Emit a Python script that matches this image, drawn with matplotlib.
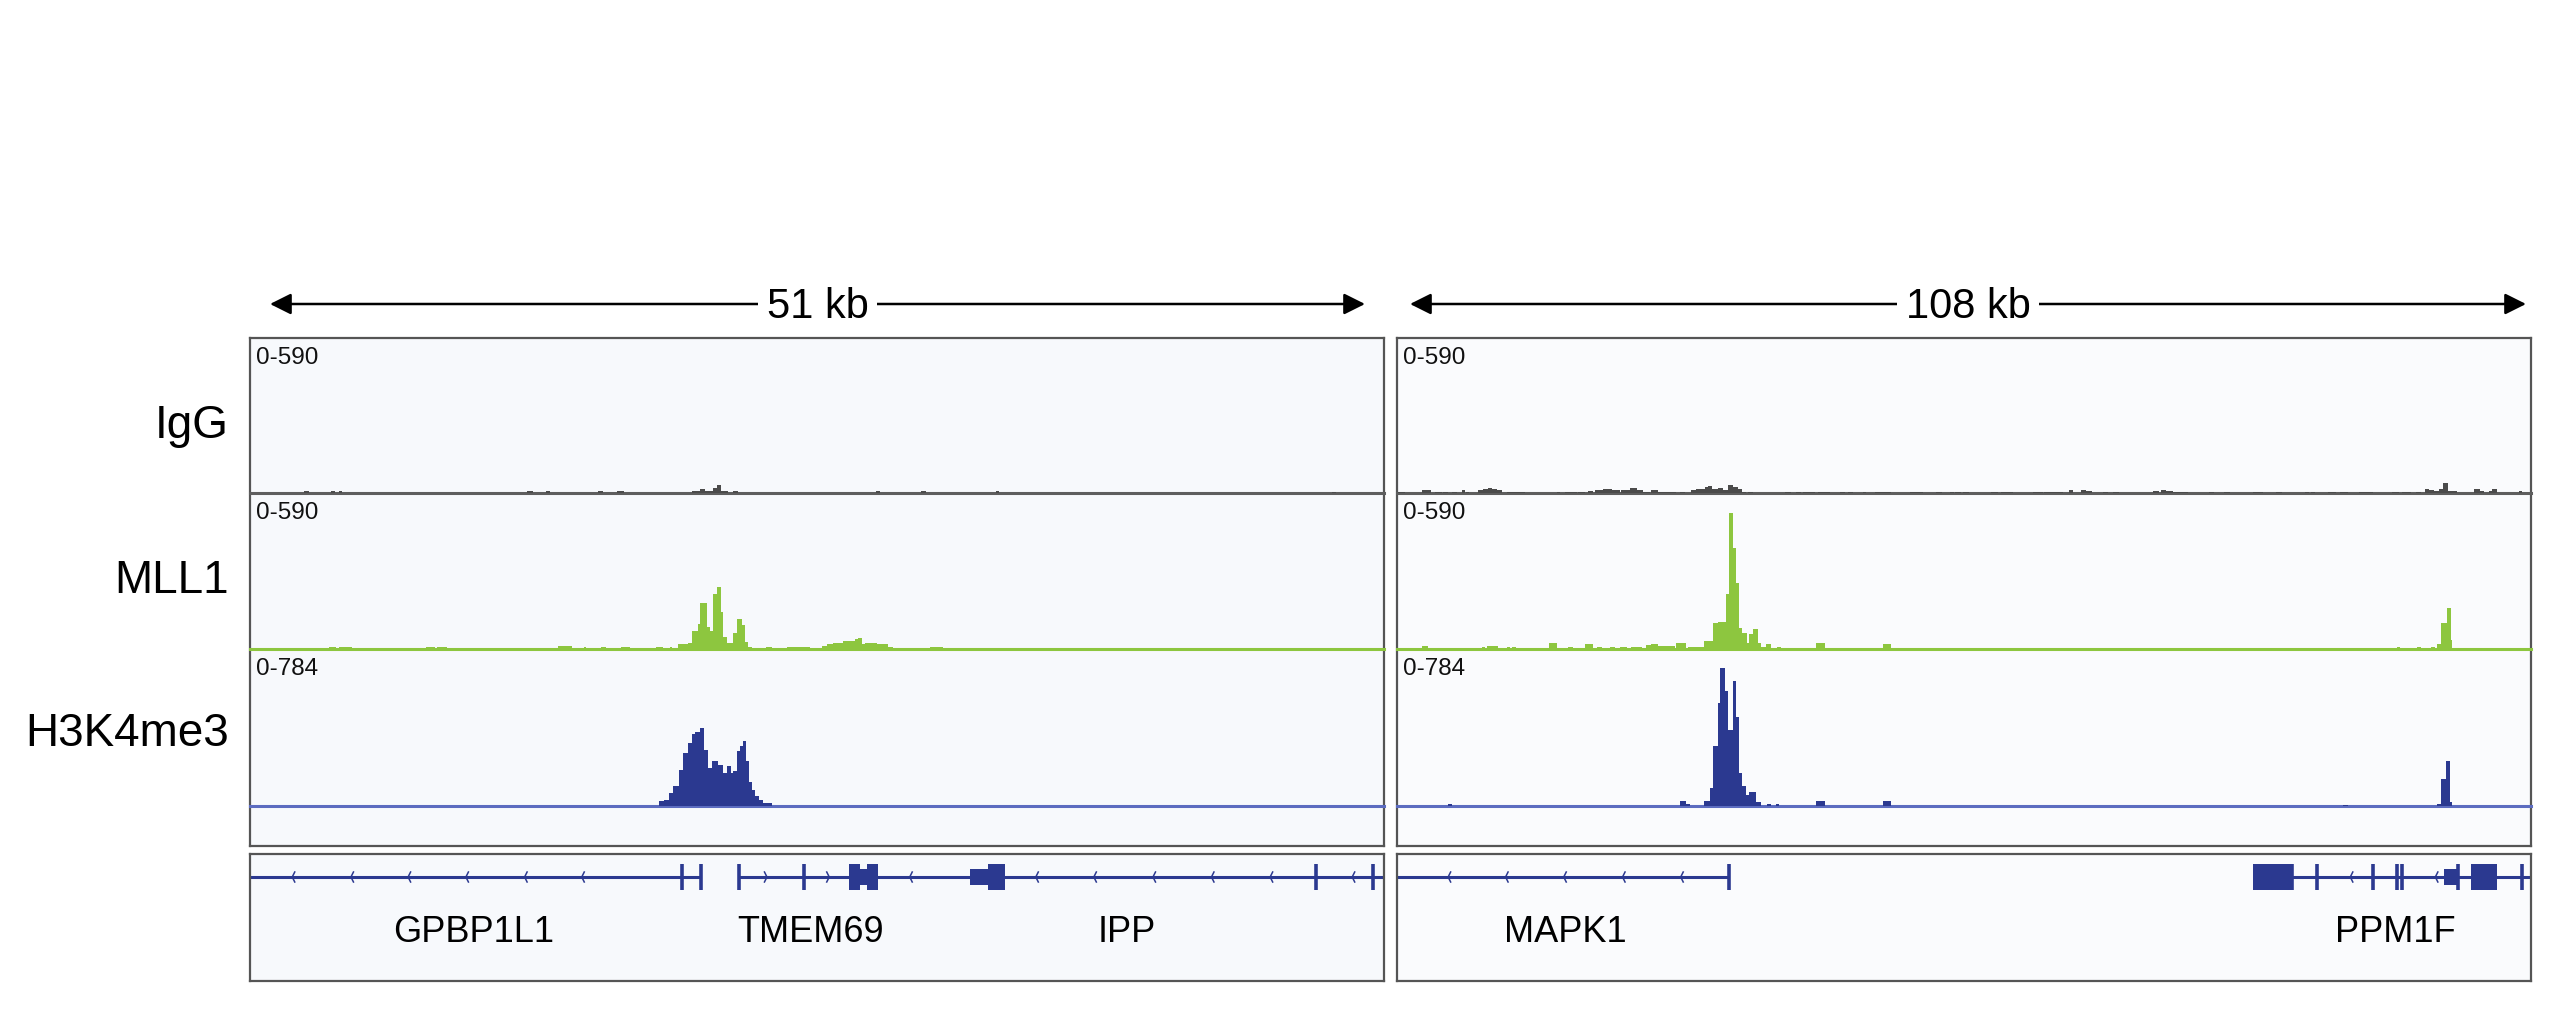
import matplotlib
matplotlib.use("Agg")
import matplotlib.pyplot as plt
from matplotlib.patches import Rectangle

plt.rcParams['font.family'] = ['Liberation Sans', 'DejaVu Sans']

W, H = 2560, 1015

# ---- signal tracks, (start kb, end kb, value) ----
igg_left = [(2.42, 2.65, 6), (3.64, 3.82, 6), (4.00, 4.13, 6), (12.44, 12.75, 6), (13.29, 13.47, 6),
            (15.63, 15.89, 6), (16.52, 16.84, 6), (19.89, 20.25, 9), (20.25, 20.47, 15), (20.47, 20.65, 9),
            (20.65, 20.83, 6), (20.83, 21.01, 19), (21.01, 21.19, 29), (21.19, 21.51, 9), (21.73, 21.96, 7),
            (28.15, 28.33, 6), (30.17, 30.40, 6), (33.54, 33.68, 6), (48.67, 48.85, 5)]

mll1_left = [(3.55, 3.86, 9), (4.00, 4.58, 9), (7.90, 8.30, 9), (8.40, 8.85, 9), (13.87, 14.46, 11),
             (15.00, 15.13, 9), (15.80, 16.03, 9), (16.70, 17.11, 9), (18.27, 18.59, 9), (18.88, 18.98, 9),
             (19.26, 19.71, 19), (19.71, 19.89, 24), (19.89, 20.16, 68), (20.16, 20.25, 95), (20.25, 20.56, 175),
             (20.56, 20.70, 84), (20.70, 20.83, 68), (20.83, 21.01, 207), (21.01, 21.19, 235), (21.19, 21.28, 141),
             (21.28, 21.46, 44), (21.46, 21.73, 24), (21.73, 21.91, 62), (21.91, 22.13, 112), (22.13, 22.27, 91),
             (22.27, 22.40, 28), (22.40, 22.58, 9), (23.21, 23.48, 9), (24.16, 25.19, 9), (25.73, 25.95, 11),
             (25.95, 26.22, 19), (26.22, 26.67, 24), (26.67, 27.21, 31), (27.21, 27.34, 37), (27.34, 27.52, 40),
             (27.52, 27.66, 20), (27.66, 28.20, 24), (28.20, 28.69, 19), (28.69, 28.91, 9), (30.58, 31.16, 9)]

h3_left = [(18.41, 18.60, 23), (18.60, 18.86, 32), (18.86, 19.02, 65), (19.02, 19.28, 98), (19.28, 19.47, 182),
           (19.47, 19.72, 265), (19.72, 19.88, 315), (19.88, 20.02, 361), (20.02, 20.22, 369), (20.22, 20.40, 390),
           (20.40, 20.58, 281), (20.58, 20.77, 190), (20.77, 21.03, 225), (21.03, 21.27, 203), (21.27, 21.45, 165),
           (21.45, 21.63, 198), (21.63, 21.74, 165), (21.74, 21.90, 174), (21.90, 22.04, 273), (22.04, 22.17, 298),
           (22.17, 22.31, 323), (22.31, 22.46, 223), (22.46, 22.57, 120), (22.57, 22.72, 82), (22.72, 22.91, 48),
           (22.91, 23.09, 32), (23.09, 23.47, 15)]

igg_right = [(0.12, 0.76, 4), (2.35, 3.21, 13), (3.62, 4.25, 5), (4.41, 4.88, 5), (5.20, 5.68, 5),
             (6.16, 6.47, 10), (6.57, 6.88, 5), (7.74, 8.21, 10), (8.21, 8.69, 15), (8.69, 9.01, 19),
             (9.01, 9.49, 15), (9.49, 9.96, 10), (10.44, 12.18, 5), (15.20, 15.51, 5), (15.99, 17.10, 5),
             (17.25, 17.89, 5), (18.20, 18.68, 9), (18.84, 19.63, 10), (19.63, 20.43, 15), (20.43, 21.22, 10),
             (21.38, 22.17, 10), (22.17, 22.81, 19), (22.81, 23.44, 10), (23.44, 24.07, 5), (24.23, 24.86, 13),
             (24.86, 26.61, 5), (26.93, 27.40, 5), (28.04, 28.52, 13), (28.52, 29.31, 17), (29.31, 29.62, 23),
             (29.62, 30.04, 28), (30.04, 30.57, 17), (30.57, 31.05, 19), (31.05, 31.52, 10), (31.52, 32.00, 29),
             (32.00, 32.47, 21), (32.47, 32.89, 15), (32.89, 33.21, 5), (33.43, 33.90, 5), (36.92, 37.55, 5),
             (37.97, 38.51, 5), (38.66, 39.77, 5), (40.09, 41.20, 5), (42.15, 42.63, 5), (42.94, 43.42, 5),
             (44.37, 44.69, 5), (45.48, 47.07, 5), (48.81, 50.08, 5), (51.35, 51.92, 5), (52.62, 53.09, 5),
             (53.19, 53.73, 5), (53.88, 54.46, 5), (56.58, 57.21, 5), (57.54, 58.64, 5), (60.54, 61.50, 5),
             (61.66, 62.45, 5), (62.51, 63.47, 5), (64.04, 64.35, 13), (65.15, 65.63, 10), (65.63, 66.20, 6),
             (67.21, 67.68, 5), (68.22, 68.79, 5), (71.96, 72.60, 6), (72.76, 73.24, 11), (73.24, 73.87, 6),
             (73.87, 75.29, 5), (77.29, 77.83, 5), (78.78, 79.33, 5), (81.54, 82.43, 5), (83.70, 84.27, 5),
             (86.49, 86.81, 5), (87.04, 87.44, 5), (88.71, 89.41, 5), (89.79, 90.61, 5), (91.63, 92.96, 5),
             (94.74, 95.43, 5), (95.69, 96.55, 5), (97.08, 97.50, 5), (97.90, 98.32, 15), (98.32, 98.76, 10),
             (98.76, 99.27, 6), (99.27, 99.65, 15), (99.65, 100.13, 38), (100.13, 100.98, 6), (102.57, 103.11, 15),
             (103.11, 103.52, 6), (104.00, 104.31, 6), (104.31, 104.79, 15), (106.85, 107.10, 6)]

mll1_right = [(2.35, 2.98, 11), (8.06, 8.37, 9), (8.53, 9.64, 11), (10.44, 10.75, 9), (10.91, 11.32, 9),
              (14.49, 15.20, 21), (16.30, 16.78, 9), (17.89, 18.62, 19), (19.00, 19.48, 9), (20.27, 20.74, 9),
              (21.22, 21.86, 9), (22.33, 23.38, 9), (23.76, 24.23, 15), (24.23, 24.86, 18), (24.86, 26.45, 12),
              (26.61, 27.57, 22), (27.72, 29.21, 9), (29.21, 30.10, 32), (30.10, 30.57, 100), (30.57, 31.37, 103),
              (31.37, 31.62, 207), (31.62, 32.00, 513), (32.00, 32.32, 381), (32.32, 32.57, 248), (32.57, 32.89, 81),
              (32.89, 33.33, 62), (33.33, 33.52, 21), (33.52, 33.90, 55), (33.90, 34.38, 74), (34.38, 34.70, 21),
              (34.70, 35.18, 9), (35.18, 35.65, 18), (36.19, 36.60, 9), (39.93, 40.72, 22), (46.27, 47.07, 19),
              (95.22, 95.50, 9), (97.15, 97.53, 9), (98.45, 98.83, 9), (99.08, 99.46, 19), (99.46, 99.97, 97),
              (99.97, 100.35, 156), (100.35, 100.51, 35)]

h3_right = [(4.88, 5.26, 12), (26.99, 27.50, 23), (27.50, 27.95, 12), (29.21, 29.78, 23), (29.78, 30.10, 90),
            (30.10, 30.57, 300), (30.57, 30.73, 514), (30.73, 31.21, 689), (31.21, 31.52, 574), (31.52, 32.00, 381),
            (32.00, 32.32, 623), (32.32, 32.57, 444), (32.57, 32.89, 165), (32.89, 33.27, 98), (33.27, 33.52, 53),
            (33.52, 34.23, 70), (34.23, 34.70, 20), (35.27, 35.65, 12), (36.06, 36.38, 12), (39.93, 40.72, 23),
            (46.27, 47.07, 23), (90.14, 90.58, 7), (99.08, 99.46, 12), (99.46, 99.88, 137), (99.88, 100.29, 225),
            (100.29, 100.45, 20)]

track_names = ['IgG', 'MLL1', 'H3K4me3']
track_ranges = [590, 590, 784]
track_fill = ['#4b4b4b', '#8dc63f', '#2b3990']
track_base = ['#5e5e5e', '#8dc63f', '#5c6cc0']

# ---- gene annotation (kb) ----
gene_lines_left = [(0.0, 20.28), (22.00, 51.0)]
exon_ticks_left = [19.43, 20.28, 22.00, 24.90, 47.92, 50.49]
exon_boxes_left = [(26.94, 27.43, 'cds'), (27.43, 27.76, 'utr'), (27.76, 28.25, 'cds'),
                   (32.37, 33.19, 'utr'), (33.19, 33.95, 'cds')]
chevrons_left = [(1.90, -1), (4.54, -1), (7.11, -1), (9.71, -1), (12.35, -1), (14.92, -1),
                 (23.25, 1), (26.05, 1), (29.67, -1), (35.34, -1), (37.95, -1), (40.61, -1),
                 (43.24, -1), (45.88, -1), (49.57, -1)]
gene_names_left = ['GPBP1L1', 'TMEM69', 'IPP']
gene_name_pos_left = [10.06, 25.22, 39.45]

gene_lines_right = [(0.0, 31.64), (81.56, 108.0)]
exon_ticks_right = [31.64, 85.26, 87.60, 92.92, 95.20, 95.76, 101.02, 107.12]
exon_boxes_right = [(81.56, 85.26, 'cds'), (99.67, 101.02, 'utr'), (102.29, 104.76, 'cds')]
chevrons_right = [(4.87, -1), (10.34, -1), (15.88, -1), (21.48, -1), (27.02, -1), (90.79, -1), (98.89, -1)]
gene_names_right = ['MAPK1', 'PPM1F']
gene_name_pos_right = [16.02, 95.06]

spans = [51, 108]
span_labels = ['51 kb', '108 kb']


def px_axes(fig, x, y, w, h):
    return fig.add_axes([x / W, 1 - (y + h) / H, w / W, h / H])


def frame_style(ax, bg):
    ax.set_facecolor(bg)
    ax.set_xticks([])
    ax.set_yticks([])
    for s in ax.spines.values():
        s.set_color('#555555')
        s.set_linewidth(1.6)


def draw_genes(ax, span, lines, ticks, boxes, chevrons, names, name_pos):
    gy = 23
    col = '#2b3990'
    ax.set_xlim(0, span)
    ax.set_ylim(127, 0)
    for s, e in lines:
        ax.hlines(gy, s, e, color=col, lw=2.2)
    for x in ticks:
        ax.vlines(x, gy - 13, gy + 13, color=col, lw=2.6)
    for s, e, kind in boxes:
        hh = 13 if kind == 'cds' else 8
        ax.add_patch(Rectangle((s, gy - hh), e - s, 2 * hh, color=col, lw=0))
    d = span / 1134 * 2.5
    for x, strand in chevrons:
        ax.plot([x - strand * d, x, x - strand * d], [gy - 5, gy, gy + 5], color=col, lw=1.1)
    for name, x in zip(names, name_pos):
        ax.text(x, 88, name, ha='center', va='baseline', fontsize=26)


fig = plt.figure(figsize=(25.6, 10.15), dpi=100)
fig.patch.set_facecolor('white')

# overlay in pixel coordinates for arrows and labels
ov = fig.add_axes([0, 0, 1, 1])
ov.set_xlim(0, W)
ov.set_ylim(H, 0)
ov.axis('off')
ov.patch.set_alpha(0)

panels_x = [250, 1397]
panel_w = 1134
panel_bg = ['#f7f9fc', '#fafbfd']
data = [[igg_left, mll1_left, h3_left], [igg_right, mll1_right, h3_right]]
track_tops = [338, 493, 649]
track_h = [155, 156, 157]

for p, x0 in enumerate(panels_x):
    span = spans[p]
    frame = px_axes(fig, x0, 338, panel_w, 508)
    frame_style(frame, panel_bg[p])
    for t in range(3):
        ax = px_axes(fig, x0, track_tops[t], panel_w, track_h[t])
        ax.axis('off')
        ax.patch.set_alpha(0)
        ax.set_xlim(0, span)
        ax.set_ylim(0, track_ranges[t])
        segs = data[p][t]
        starts = [s for s, e, v in segs]
        widths = [e - s for s, e, v in segs]
        vals = [v for s, e, v in segs]
        ax.bar(starts, vals, width=widths, align='edge', color=track_fill[t], lw=0, zorder=2)
        ax.axhline(0, color=track_base[t], lw=2.2, zorder=1, clip_on=False)
        ax.text(6 / panel_w, 1 - 26 / track_h[t], '0-%d' % track_ranges[t], transform=ax.transAxes,
                ha='left', va='baseline', fontsize=17.5, color='#111111')

    gax = px_axes(fig, x0, 854, panel_w, 127)
    frame_style(gax, panel_bg[p])
    if p == 0:
        draw_genes(gax, span, gene_lines_left, exon_ticks_left, exon_boxes_left, chevrons_left,
                   gene_names_left, gene_name_pos_left)
    else:
        draw_genes(gax, span, gene_lines_right, exon_ticks_right, exon_boxes_right, chevrons_right,
                   gene_names_right, gene_name_pos_right)

# scale arrows
arrow_ends = [(270, 1365), (1410, 2526)]
for (xa, xb), lab in zip(arrow_ends, span_labels):
    ov.annotate('', xy=(xa, 304), xytext=(xb, 304),
                arrowprops=dict(arrowstyle='<|-|>', color='black', lw=1.8, mutation_scale=32,
                                shrinkA=0, shrinkB=0))
    ov.text((xa + xb) / 2, 318, lab, ha='center', va='baseline', fontsize=30,
            bbox=dict(facecolor='white', edgecolor='none', pad=6))

# row labels
for name, yb in zip(track_names, [438, 593, 746]):
    ov.text(229, yb, name, ha='right', va='baseline', fontsize=33)

fig.savefig('out.png', dpi=100, facecolor='white')
